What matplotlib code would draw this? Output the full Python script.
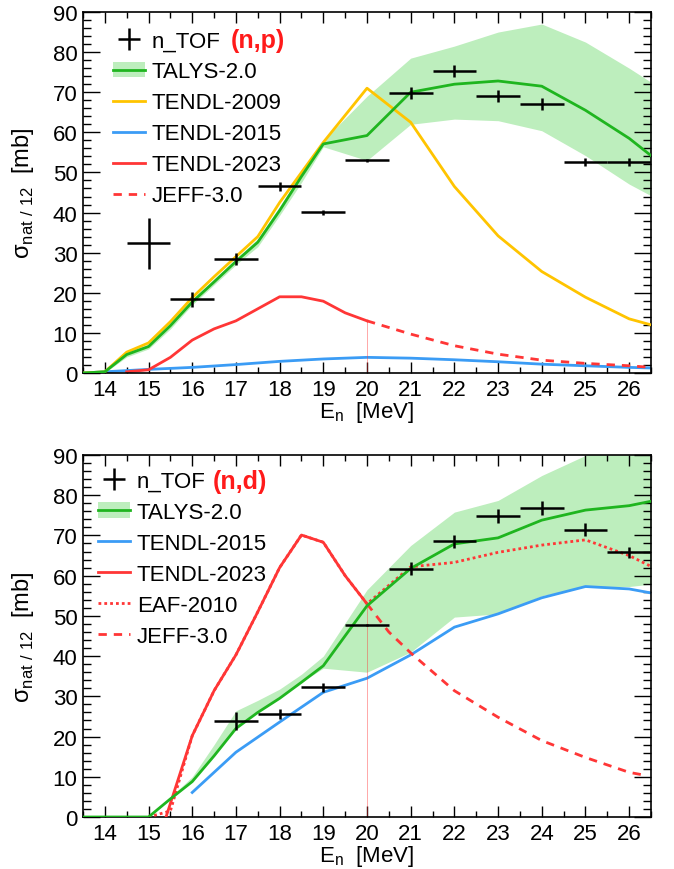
import matplotlib
matplotlib.use("Agg")
import matplotlib.pyplot as plt
from matplotlib.lines import Line2D
from matplotlib.patches import Patch
from matplotlib.ticker import MultipleLocator

plt.rcParams['font.family'] = ['Liberation Sans', 'DejaVu Sans']
plt.rcParams['mathtext.fontset'] = 'custom'
plt.rcParams['mathtext.rm'] = 'Liberation Sans'

# ---------------- (n,p) channel ----------------
ntof_np_E = [15, 16, 17, 18, 19, 20, 21, 22, 23, 24, 25, 26]
ntof_np_dE = [0.5, 0.5, 0.5, 0.5, 0.5, 0.5, 0.5, 0.5, 0.5, 0.5, 0.5, 0.5]
ntof_np_sigma = [32.3, 18.4, 28.4, 46.5, 40.1, 53.0, 69.8, 75.3, 69.0, 67.1, 52.6, 52.6]
ntof_np_err = [6.3, 1.9, 1.4, 1.2, 0.6, 0.3, 1.5, 1.6, 1.5, 1.5, 1.1, 1.0]

talys_np_E = [13.5, 14, 14.5, 15, 15.5, 16, 16.5, 17, 17.5, 18, 18.5, 19, 20, 21, 22, 23, 24, 25, 26, 26.5]
talys_np_sigma = [0, 0.3, 4.6, 6.6, 11.8, 17.7, 22.7, 27.8, 32.6, 40.5, 49.0, 57.1, 59.2, 70.0, 72.0, 72.8, 71.5, 65.5, 58.5, 54.2]
talys_np_hi = [0, 0.5, 5.2, 7.2, 12.5, 18.5, 23.5, 28.5, 33.5, 41.5, 50.0, 58.0, 69.0, 78.5, 81.5, 85.0, 87.0, 82.5, 76.0, 72.5]
talys_np_lo = [0, 0.1, 4.0, 6.0, 11.0, 17.0, 22.0, 27.0, 31.5, 39.3, 47.5, 56.4, 53.0, 62.0, 63.3, 62.9, 60.4, 54.2, 47.1, 44.2]

tendl09_np_E = [13.5, 14, 14.5, 15, 15.5, 16, 16.5, 17, 17.5, 18, 18.5, 19, 20, 21, 22, 23, 24, 25, 26, 26.5]
tendl09_np_sigma = [0, 0.3, 5.2, 7.5, 12.8, 18.8, 24.0, 29.0, 34.0, 42.5, 50.0, 57.5, 71.0, 62.5, 46.5, 34.2, 25.3, 18.9, 13.5, 12.0]

tendl15_np_E = [13.5, 14, 15, 16, 17, 18, 19, 20, 21, 22, 23, 24, 25, 26, 26.5]
tendl15_np_sigma = [0, 0.3, 0.9, 1.4, 2.1, 2.9, 3.5, 3.9, 3.7, 3.3, 2.8, 2.2, 1.8, 1.4, 1.25]

tendl23_np_E = [14.5, 15, 15.5, 16, 16.5, 17, 17.5, 18, 18.5, 19, 19.5, 20]
tendl23_np_sigma = [0.3, 0.8, 3.9, 8.2, 11.0, 13.0, 16.0, 19.0, 19.0, 17.9, 15.0, 13.0]

jeff_np_E = [20, 21, 22, 23, 24, 25, 26, 26.5]
jeff_np_sigma = [13.0, 9.7, 6.8, 4.7, 3.2, 2.4, 1.8, 1.4]

# ---------------- (n,d) channel ----------------
ntof_nd_E = [17, 18, 19, 20, 21, 22, 23, 24, 25, 26]
ntof_nd_dE = [0.5, 0.5, 0.5, 0.5, 0.5, 0.5, 0.5, 0.5, 0.5, 0.5]
ntof_nd_sigma = [23.9, 25.6, 32.2, 47.7, 61.7, 68.5, 74.9, 76.9, 71.4, 65.8]
ntof_nd_err = [2.2, 1.3, 1.2, 0.3, 1.6, 1.6, 1.7, 1.7, 1.6, 1.4]

talys_nd_E = [13.5, 14, 15, 15.5, 16, 16.5, 17, 17.5, 18, 18.5, 19, 20, 21, 22, 23, 24, 25, 26, 26.5]
talys_nd_sigma = [0, 0, 0, 4.5, 8.8, 15.2, 22.0, 26.0, 29.5, 33.5, 37.6, 52.5, 61.8, 67.9, 69.4, 73.8, 76.3, 77.4, 78.5]
talys_nd_hi = [0, 0, 0, 5.0, 10.0, 18.0, 26.4, 29.0, 31.8, 35.5, 40.0, 56.5, 67.5, 75.8, 78.7, 84.9, 89.9, 93.0, 95.0]
talys_nd_lo = [0, 0, 0, 4.5, 8.8, 15.2, 22.0, 26.0, 29.5, 33.5, 37.0, 36.0, 41.0, 49.7, 50.5, 55.0, 57.3, 57.3, 57.9]

tendl15_nd_E = [16, 17, 18, 19, 20, 21, 22, 23, 24, 25, 26, 26.5]
tendl15_nd_sigma = [6.1, 16.1, 23.6, 31.0, 34.5, 40.3, 47.2, 50.5, 54.5, 57.3, 56.7, 55.7]

tendl23_nd_E = [15.4, 16, 16.5, 17, 17.5, 18, 18.5, 19, 19.5, 20]
tendl23_nd_sigma = [0, 20.2, 31.4, 40.3, 51.0, 62.0, 70.1, 68.3, 60.0, 53.0]

eaf_nd_E = [15.0, 15.5, 16, 16.5, 17, 17.5, 18, 18.5, 19, 19.5, 20, 21, 22, 23, 24, 25, 26, 26.5]
eaf_nd_sigma = [0, 1.5, 20.2, 31.4, 40.3, 51.0, 62.0, 70.1, 68.3, 60.0, 53.0, 62.2, 63.3, 65.8, 67.6, 68.9, 65.0, 62.3]

jeff_nd_E = [20, 20.5, 21, 22, 23, 24, 25, 26, 26.4]
jeff_nd_sigma = [53.0, 46.0, 40.8, 31.4, 24.8, 19.0, 14.8, 11.1, 10.3]

x_ticks = [14, 15, 16, 17, 18, 19, 20, 21, 22, 23, 24, 25, 26]
y_ticks = [0, 10, 20, 30, 40, 50, 60, 70, 80, 90]

C_GREEN = '#1fb51f'
C_BAND = '#bdeebd'
C_YELLOW = '#ffc400'
C_BLUE = '#3b9cf5'
C_RED = '#ff3636'
LW = 2.0

fig = plt.figure(figsize=(6.74, 8.7), dpi=100)
W, H = 674.0, 870.0
ax1 = fig.add_axes([83 / W, 1 - 374 / H, 568 / W, 361 / H])
ax2 = fig.add_axes([83 / W, 1 - 818 / H, 568 / W, 362 / H])


def style_axes(ax):
    ax.set_xlim(13.5, 26.5)
    ax.set_ylim(0, 90)
    ax.set_xticks(x_ticks)
    ax.set_yticks(y_ticks)
    ax.xaxis.set_minor_locator(MultipleLocator(0.5))
    ax.yaxis.set_minor_locator(MultipleLocator(2))
    ax.tick_params(which='both', direction='in', top=True, right=True, width=1.0, labelsize=16)
    ax.tick_params(axis='x', which='major', length=8, pad=4)
    ax.tick_params(axis='x', which='minor', length=4)
    ax.tick_params(axis='y', which='major', length=12, pad=4)
    ax.tick_params(axis='y', which='minor', length=6)
    for s in ax.spines.values():
        s.set_linewidth(1.2)
    ax.set_xlabel('E$_{\\mathregular{n}}$  [MeV]', fontsize=16)
    ax.set_ylabel('σ$_{\\mathregular{nat\\ /\\ 12}}$  [mb]', fontsize=17)
    ax.xaxis.set_label_coords(0.5, -0.072)
    ax.yaxis.set_label_coords(-0.082, 0.5)


def ntof(ax, E, dE, s, ds):
    return ax.errorbar(E, s, xerr=dE, yerr=ds, fmt='none', ecolor='black',
                       elinewidth=1.8, capsize=0, zorder=6)


# ---- top panel: (n,p)
style_axes(ax1)
ax1.fill_between(talys_np_E, talys_np_lo, talys_np_hi, color=C_BAND, lw=0, zorder=1)
ax1.plot(tendl15_np_E, tendl15_np_sigma, color=C_BLUE, lw=LW, zorder=2)
ax1.plot(tendl23_np_E, tendl23_np_sigma, color=C_RED, lw=LW, zorder=2)
ax1.plot([jeff_np_E[0], jeff_np_E[0]], [0, jeff_np_sigma[0]], color=C_RED, lw=0.5, alpha=0.6, zorder=2)
ax1.plot(jeff_np_E, jeff_np_sigma, color=C_RED, lw=LW, ls=(0, (3, 2.5)), zorder=2)
ax1.plot(tendl09_np_E, tendl09_np_sigma, color=C_YELLOW, lw=LW, zorder=3)
ax1.plot(talys_np_E, talys_np_sigma, color=C_GREEN, lw=LW, zorder=4)
eb1 = ntof(ax1, ntof_np_E, ntof_np_dE, ntof_np_sigma, ntof_np_err)

talys_handle = (Patch(facecolor=C_BAND, edgecolor='none'), Line2D([], [], color=C_GREEN, lw=LW))
h1 = [eb1, talys_handle,
      Line2D([], [], color=C_YELLOW, lw=LW),
      Line2D([], [], color=C_BLUE, lw=LW),
      Line2D([], [], color=C_RED, lw=LW),
      Line2D([], [], color=C_RED, lw=LW, ls=(0, (3, 2.5)))]
l1 = ['n_TOF', 'TALYS-2.0', 'TENDL-2009', 'TENDL-2015', 'TENDL-2023', 'JEFF-3.0']
leg1 = ax1.legend(h1, l1, loc='upper left', bbox_to_anchor=(0.053, 0.949), frameon=False,
                  fontsize=16, handlelength=1.45, handletextpad=0.3, labelspacing=0.45,
                  borderpad=0, borderaxespad=0)

# ---- bottom panel: (n,d)
style_axes(ax2)
ax2.fill_between(talys_nd_E, talys_nd_lo, talys_nd_hi, color=C_BAND, lw=0, zorder=1)
ax2.plot(tendl15_nd_E, tendl15_nd_sigma, color=C_BLUE, lw=LW, zorder=2)
ax2.plot(tendl23_nd_E, tendl23_nd_sigma, color=C_RED, lw=LW, zorder=3)
ax2.plot([jeff_nd_E[0], jeff_nd_E[0]], [0, jeff_nd_sigma[0]], color=C_RED, lw=0.5, alpha=0.6, zorder=2)
ax2.plot(eaf_nd_E, eaf_nd_sigma, color=C_RED, lw=LW, ls=(0, (1, 1.1)), zorder=3)
ax2.plot(jeff_nd_E, jeff_nd_sigma, color=C_RED, lw=LW, ls=(0, (3, 2.5)), zorder=3)
ax2.plot(talys_nd_E, talys_nd_sigma, color=C_GREEN, lw=LW, zorder=4)
eb2 = ntof(ax2, ntof_nd_E, ntof_nd_dE, ntof_nd_sigma, ntof_nd_err)

h2 = [eb2, talys_handle,
      Line2D([], [], color=C_BLUE, lw=LW),
      Line2D([], [], color=C_RED, lw=LW),
      Line2D([], [], color=C_RED, lw=LW, ls=(0, (1, 1.1))),
      Line2D([], [], color=C_RED, lw=LW, ls=(0, (3, 2.5)))]
l2 = ['n_TOF', 'TALYS-2.0', 'TENDL-2015', 'TENDL-2023', 'EAF-2010', 'JEFF-3.0']
leg2 = ax2.legend(h2, l2, loc='upper left', bbox_to_anchor=(0.026, 0.957), frameon=False,
                  fontsize=16, handlelength=1.45, handletextpad=0.3, labelspacing=0.45,
                  borderpad=0, borderaxespad=0)

# reaction tags placed right after the first legend label
fig.canvas.draw()
for leg, tag, gap in ((leg1, '(n,p)', 10), (leg2, '(n,d)', 7)):
    bb = leg.get_texts()[0].get_window_extent()
    fig.text((bb.x1 + gap) / W, (bb.y0 - 1) / H, tag, ha='left', va='bottom', fontsize=18,
             fontweight='bold', color='#ff1a1a')

fig.savefig('out.png', dpi=100)
